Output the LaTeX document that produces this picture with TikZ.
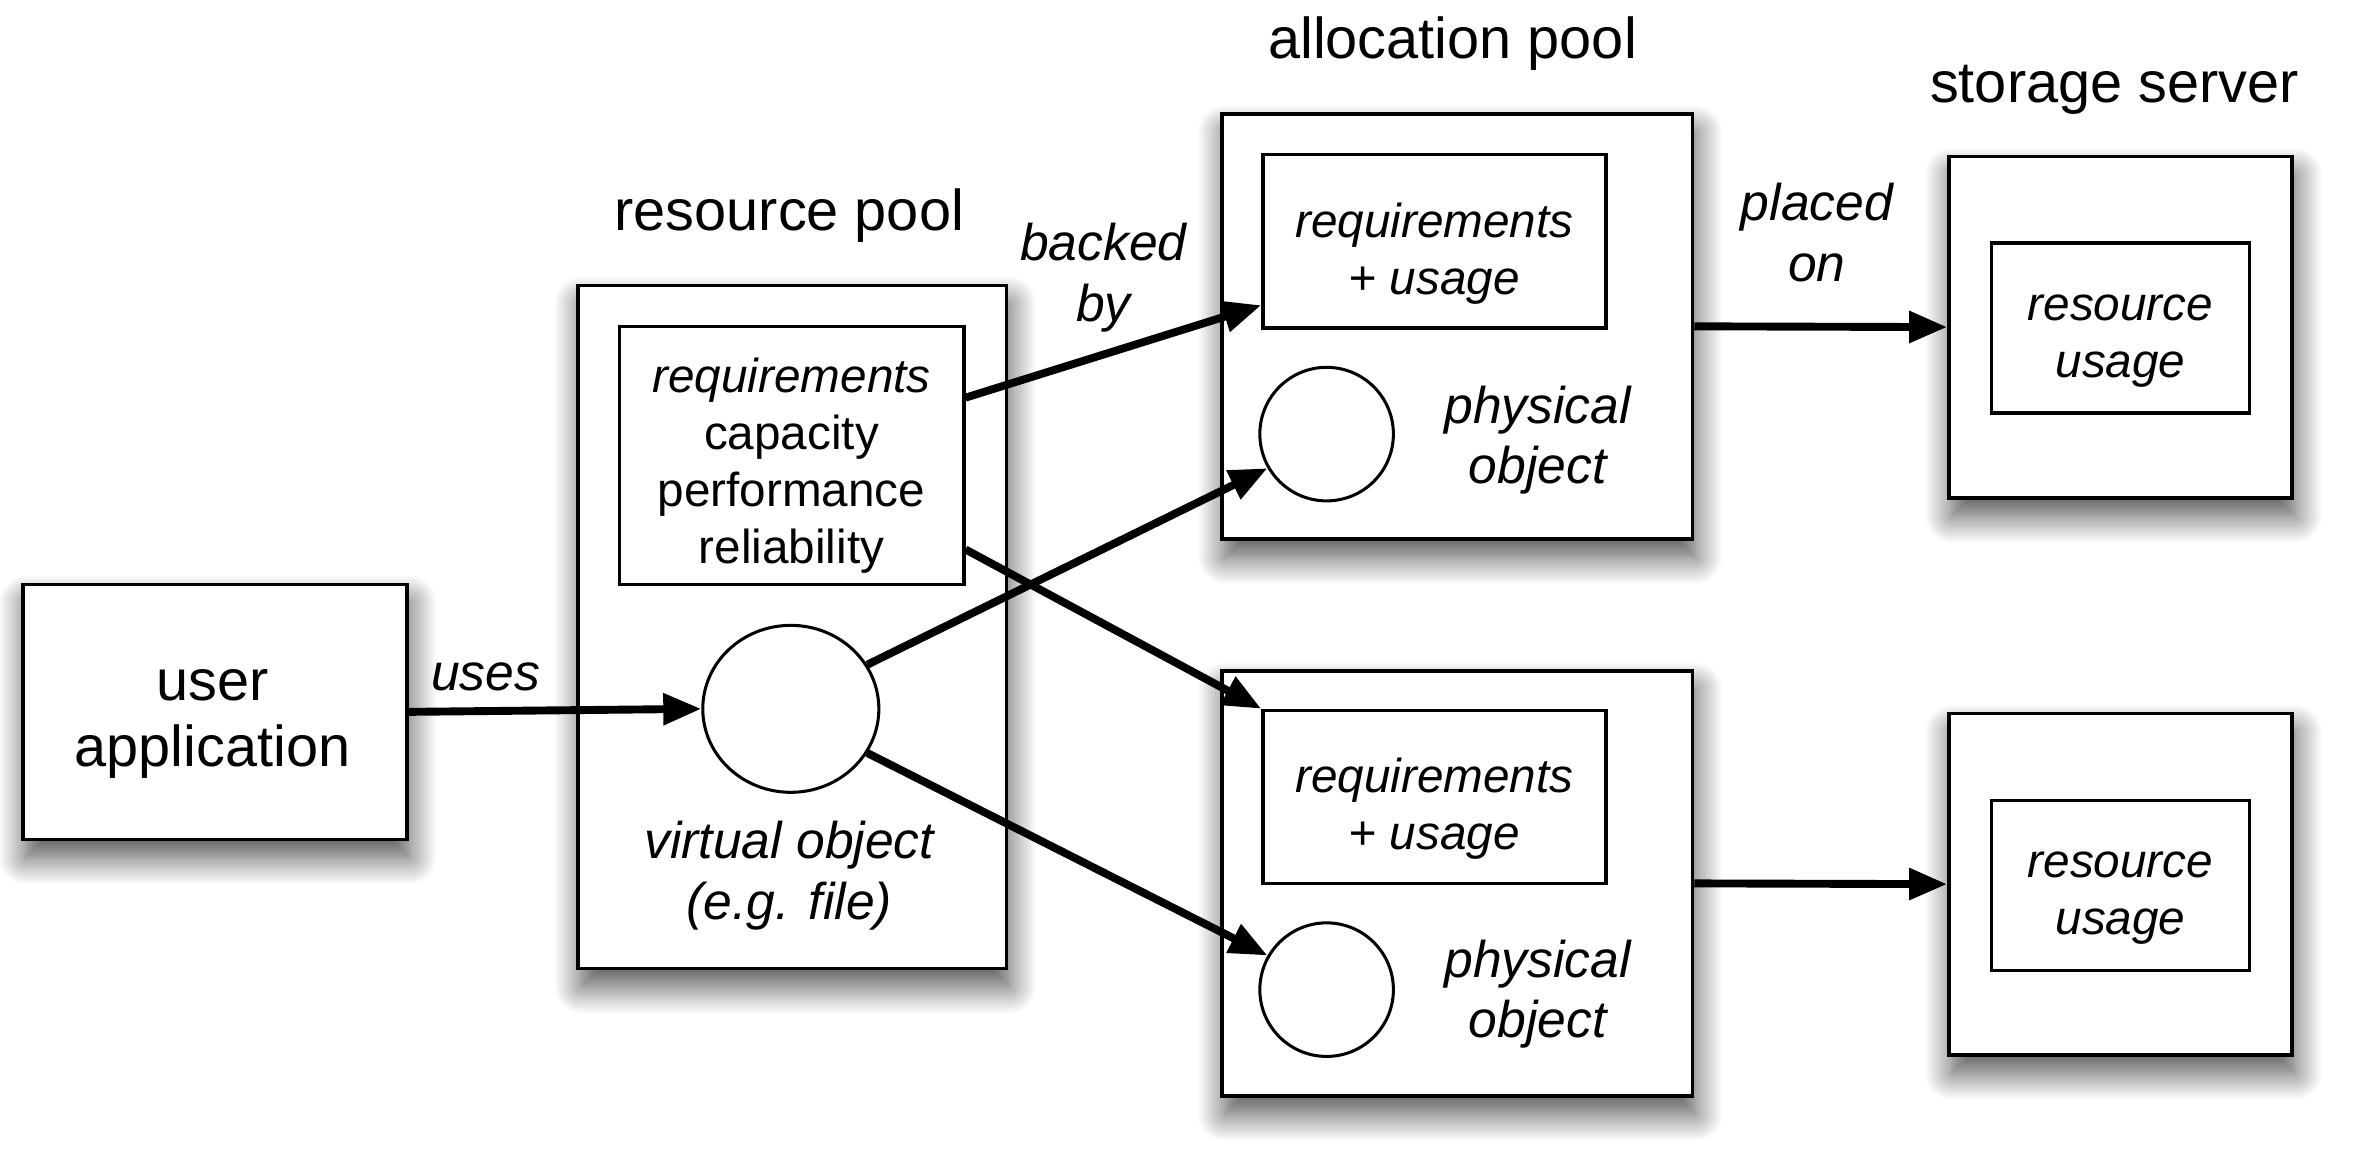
\documentclass[tikz,border=0pt]{standalone}
\usepackage{fontspec}
\setmainfont{Liberation Sans}
\usetikzlibrary{arrows.meta,shapes.geometric,shadows.blur,calc}

\tikzset{
  shadowed/.style={blur shadow={shadow xshift=1pt, shadow yshift=-6pt,
      shadow blur radius=9pt, shadow blur steps=16, shadow opacity=70}},
  outerbox/.style={draw, line width=1.2pt, fill=white, shadowed, inner sep=0pt},
  innerbox/.style={draw, line width=1.1pt, fill=white, inner sep=0pt},
  boxtext/.style={font=\fontsize{15.7}{18.75}\selectfont, align=center, inner sep=0pt},
  objcircle/.style={draw, line width=1pt, fill=white, circle, inner sep=0pt},
  title/.style={font=\fontsize{19}{22}\selectfont, align=center, inner sep=0pt},
  lbl/.style={font=\fontsize{17}{20}\selectfont\itshape, align=center, inner sep=0pt},
  link/.style={line width=2.6pt, -{Triangle[length=12.5pt,width=10pt]}},
}

\begin{document}
\begin{tikzpicture}[x=0.5pt,y=-0.5pt]
\useasboundingbox (0,0) rectangle (1568,764);

% user application
\node[outerbox, minimum width=126.5pt, minimum height=84pt] (ua) at (141.5,469) {};
\node[title] (uat) at (140,477) {user\\application};

% resource pool
\node[outerbox, minimum width=141pt, minimum height=225pt] (rp) at (522,413) {};
\node[title] (rpt) at (520,142) {resource pool};
\node[innerbox, minimum width=113.5pt, minimum height=85pt] (req) at (521.5,300) {};
\node[boxtext] (reqt) at (521.5,307)
      {\textit{requirements}\\capacity\\performance\\reliability};
\node[objcircle, ellipse, minimum width=58pt, minimum height=55pt] (vo) at (521,467) {};
\node[lbl] (vol) at (520,577) {virtual object\\(e.g. file)};

% allocation pools
\node[outerbox, minimum width=155pt, minimum height=140pt] (apa) at (960,215) {};
\node[outerbox, minimum width=155pt, minimum height=140pt] (apb) at (960,582) {};
\node[title] (apt) at (957,29) {allocation pool};
\node[innerbox, minimum width=113pt, minimum height=57pt] (ia) at (945,159) {};
\node[innerbox, minimum width=113pt, minimum height=57pt] (ib) at (945,525) {};
\node[boxtext, font=\fontsize{15.7}{18.75}\selectfont\itshape] (iat) at (945,167)
      {requirements\\+ usage};
\node[boxtext, font=\fontsize{15.7}{18.75}\selectfont\itshape] (ibt) at (945,533)
      {requirements\\+ usage};
\node[objcircle, minimum size=44pt] (pa) at (874,286) {};
\node[objcircle, minimum size=44pt] (pb) at (874,652) {};
\node[lbl] (pal) at (1013,290) {physical\\object};
\node[lbl] (pbl) at (1013,655) {physical\\object};

% storage servers
\node[outerbox, minimum width=113pt, minimum height=112.5pt] (ssa) at (1397,215.5) {};
\node[outerbox, minimum width=113pt, minimum height=112.5pt] (ssb) at (1397,582.5) {};
\node[title] (sst) at (1393,59) {storage server};
\node[innerbox, minimum width=85pt, minimum height=56pt] (ra) at (1397,216) {};
\node[innerbox, minimum width=85pt, minimum height=56pt] (rb) at (1397,583.5) {};
\node[boxtext, font=\fontsize{15.7}{18.75}\selectfont\itshape] (rat) at (1397,225)
      {resource\\usage};
\node[boxtext, font=\fontsize{15.7}{18.75}\selectfont\itshape] (rbt) at (1397,592)
      {resource\\usage};

% connectors
\draw[link] (ua.east) -- (vo.west);
\node[lbl] (usesl) at (320,446) {uses};

\draw[link] ([yshift=19pt]req.east) -- ([yshift=8pt]ia.south west);
\node[lbl] (bbl) at (727,183) {backed\\by};
\draw[link] ([yshift=-31pt]req.east) -- (ib.north west);
\draw[link] (vo.30) -- (pa.210);
\draw[link] (vo.-30) -- (pb.150);

\draw[link] (apa.east) -- (ssa.west);
\node[lbl] (pol) at (1197,153) {placed\\on};
\draw[link] (apb.east) -- (ssb.west);
\end{tikzpicture}
\end{document}
